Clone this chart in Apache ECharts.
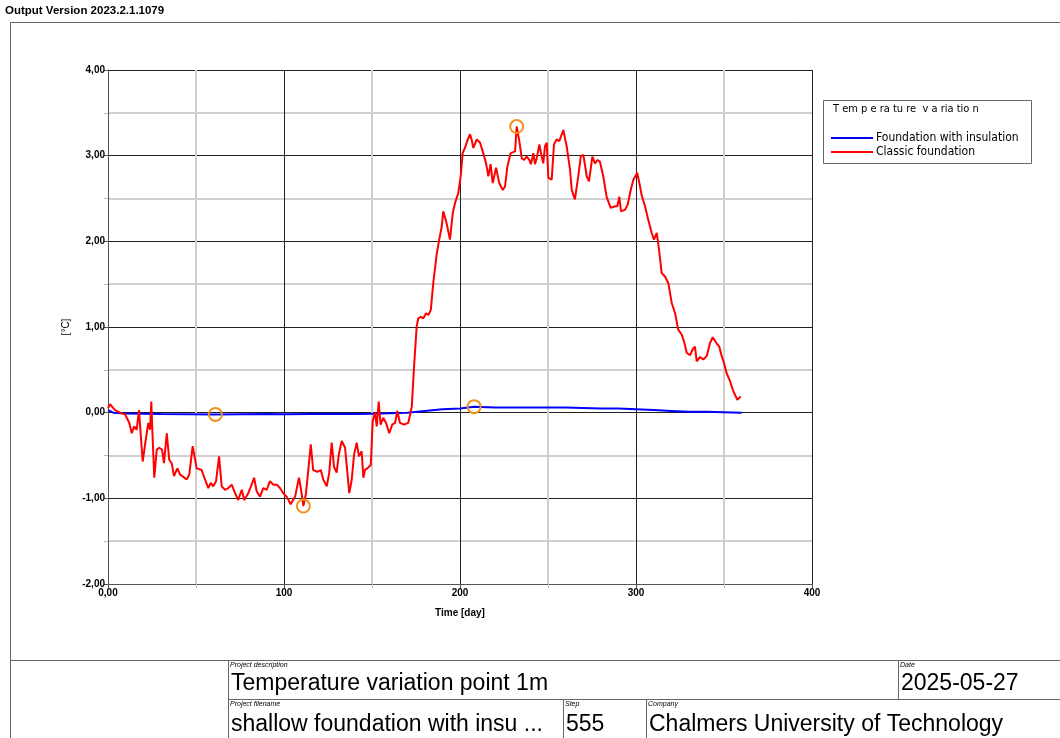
<!DOCTYPE html>
<html>
<head>
<meta charset="utf-8">
<script src="https://cdn.jsdelivr.net/npm/echarts@6/dist/echarts.min.js"></script>
<style>
html,body{margin:0;padding:0;background:#fff;}
#c{width:1060px;height:738px;}
</style>
</head>
<body>
<div id="c"></div>
<script>
// ---- data ----
const redDays = [0,1.1,4.0,6.8,9.7,12.1,13.5,14.9,16.3,17.6,19.7,22.0,22.9,23.9,24.6,25.4,26.3,27.7,29.1,30.7,31.8,33.4,34.8,36.2,37.5,39.4,40.9,42.8,44.7,46.2,48.1,50.4,53.2,55.1,57.0,58.4,59.8,61.4,63.1,64.6,66.5,68.4,70.3,72.2,74.0,76.0,77.4,79.7,81.6,83.0,84.5,86.4,88.2,90.2,92.0,93.9,95.9,97.7,99.6,101.5,103.8,106.3,108.5,109.7,111.0,112.5,113.8,115.2,116.6,118.9,120.9,122.3,124.3,125.7,127.1,128.4,129.9,131.3,132.8,134.7,136.0,137.1,138.5,139.8,141.3,142.6,144.1,145.1,146.0,147.3,149.3,150.4,151.7,152.7,153.8,154.9,156.4,158.0,159.8,161.5,163.1,164.4,165.9,168.2,170.6,172.6,173.9,175.4,176.3,177.7,179.1,180.7,182.0,183.4,184.8,186.8,188.2,189.6,190.5,192.4,194.3,195.9,197.2,199.0,200.4,201.5,202.8,204.1,205.7,206.6,207.6,209.5,211.4,213.2,214.8,216.1,217.4,218.6,220.5,222.3,224.3,225.6,226.9,228.8,231.3,232.2,233.7,235.1,236.4,237.9,239.4,240.3,241.7,242.6,243.6,245.1,246.4,247.3,248.3,249.3,250.2,252.1,253.4,254.9,256.4,258.7,260.6,262.5,263.5,265.3,267.2,268.6,270.1,272.0,273.3,275.2,276.7,278.2,279.5,281.4,283.3,285.6,288.1,289.4,290.5,291.5,293.8,295.3,297.0,298.5,300.7,302.3,303.2,305.1,307.0,308.9,310.2,311.8,313.1,314.6,316.5,318.4,320.3,322.2,324.0,326.0,327.3,328.8,330.7,332.2,333.5,334.5,336.4,338.2,340.2,342.0,343.6,345.8,347.3,348.7,350.0,351.5,353.4,355.3,357.6,359.5];
const redTemps = [0.05,0.10,0.03,0.00,-0.02,-0.12,-0.24,-0.16,-0.20,0.03,-0.57,-0.24,-0.12,-0.20,0.13,-0.32,-0.76,-0.43,-0.41,-0.43,-0.59,-0.24,-0.55,-0.59,-0.74,-0.65,-0.72,-0.75,-0.78,-0.72,-0.39,-0.65,-0.67,-0.78,-0.88,-0.82,-0.86,-0.80,-0.51,-0.86,-0.90,-0.88,-0.84,-0.94,-1.02,-0.90,-1.02,-0.94,-0.84,-0.76,-0.92,-0.98,-0.88,-0.90,-0.80,-0.84,-0.84,-0.88,-0.94,-0.98,-1.07,-0.98,-0.76,-0.90,-1.09,-0.94,-0.67,-0.37,-0.67,-0.69,-0.67,-0.78,-0.86,-0.70,-0.35,-0.63,-0.70,-0.47,-0.33,-0.41,-0.70,-0.94,-0.78,-0.49,-0.35,-0.51,-0.45,-0.76,-0.67,-0.65,-0.61,-0.10,0.00,-0.16,0.13,-0.14,-0.06,-0.12,-0.24,-0.14,-0.12,0.02,-0.12,-0.14,-0.12,0.07,0.54,1.01,1.10,1.12,1.10,1.16,1.14,1.20,1.51,1.86,2.02,2.17,2.35,2.21,2.02,2.33,2.45,2.56,2.76,3.03,3.09,3.17,3.25,3.19,3.09,3.19,3.15,3.03,2.91,2.76,2.90,2.68,2.86,2.68,2.60,2.64,2.87,3.03,3.05,3.34,3.17,2.97,2.95,2.99,2.95,2.90,3.03,2.90,2.97,3.13,2.99,2.91,3.11,3.15,2.74,2.72,3.13,3.19,3.17,3.30,3.11,2.84,2.60,2.49,2.76,2.99,3.01,2.76,2.70,2.99,2.91,2.95,2.93,2.76,2.52,2.39,2.41,2.41,2.52,2.35,2.37,2.43,2.60,2.72,2.80,2.64,2.54,2.41,2.25,2.10,2.02,2.10,1.90,1.63,1.59,1.51,1.28,1.16,0.97,0.91,0.83,0.70,0.67,0.74,0.77,0.60,0.65,0.62,0.66,0.81,0.88,0.81,0.77,0.66,0.58,0.46,0.37,0.25,0.15,0.19];
const blueDays  = [0,3,10,30,61,90,100,115,140,150,160,170,180,190,200,208,220,240,260,280,290,300,310,320,330,340,350,360];
const blueTemps = [0.03,0.00,-0.01,-0.015,-0.02,-0.015,-0.018,-0.015,-0.015,-0.012,-0.008,0.0,0.02,0.04,0.05,0.07,0.06,0.06,0.06,0.05,0.05,0.04,0.03,0.02,0.01,0.01,0.005,0.0];
const seriesNames = ['Foundation with insulation','Classic foundation'];
const legendTitle = 'T em p e ra tu re  v a ria tio n';
const headerText = 'Output Version 2023.2.1.1079';
const yAxisName = '[°C]';
const xAxisName = 'Time [day]';
const tableLabels = {desc:'Project description', date:'Date', file:'Project filename', step:'Step', company:'Company'};
const tableValues = {desc:'Temperature variation point 1m', date:'2025-05-27', file:'shallow foundation with insu ...', step:'555', company:'Chalmers University of Technology'};

const zip = (a,b)=>a.map((v,i)=>[v,b[i]]);
const NARROW = "'Liberation Sans Narrow','Arial Narrow','Liberation Sans',Arial,sans-serif";
const SANS = "'DejaVu Sans Condensed','DejaVu Sans',sans-serif";

const markStyle = {
  symbol:'circle', symbolSize:13,
  itemStyle:{color:'rgba(0,0,0,0)', borderColor:'#f0921e', borderWidth:2},
  label:{show:false},
  data:[{type:'min'},{type:'max'}]
};

const chart = echarts.init(document.getElementById('c'), null, {renderer:'canvas'});
const line = (x1,y1,x2,y2,c,w)=>({type:'line',silent:true,shape:{x1,y1,x2,y2},style:{stroke:c||'#555',lineWidth:w||1}});
const txt = (x,y,t,size,extra)=>({type:'text',silent:true,left:x,top:y,
  style:Object.assign({text:t,fontFamily:NARROW,fontSize:size,fill:'#000'},extra||{})});

chart.setOption({
  animation:false,
  backgroundColor:'#fff',
  grid:{left:108, top:70, right:248, bottom:154, containLabel:false},
  xAxis:{
    type:'value', min:0, max:400, interval:100,
    axisLine:{show:true, onZero:false, lineStyle:{color:'#555',width:1}},
    axisTick:{show:true, length:4, lineStyle:{color:'#555'}},
    minorTick:{show:true, splitNumber:2, length:4, lineStyle:{color:'#bbb'}},
    splitLine:{show:true, lineStyle:{color:'#222',width:1}},
    minorSplitLine:{show:true, lineStyle:{color:'#cfcfcf',width:2}},
    axisLabel:{color:'#000', fontFamily:NARROW, fontWeight:'bold', fontSize:10, margin:4,
      formatter:v=> v===0 ? '0,00' : String(v)},
    name:xAxisName, nameLocation:'middle', nameGap:24,
    nameTextStyle:{color:'#000', fontFamily:NARROW, fontWeight:'bold', fontSize:10}
  },
  yAxis:{
    type:'value', min:-2, max:4, interval:1,
    axisLine:{show:true, onZero:false, lineStyle:{color:'#555',width:1}},
    axisTick:{show:true, length:4, lineStyle:{color:'#555'}},
    minorTick:{show:true, splitNumber:2, length:4, lineStyle:{color:'#bbb'}},
    splitLine:{show:true, lineStyle:{color:'#222',width:1}},
    minorSplitLine:{show:true, lineStyle:{color:'#cfcfcf',width:2}},
    axisLabel:{color:'#000', fontFamily:NARROW, fontWeight:'bold', fontSize:10, margin:3,
      formatter:v=> v.toFixed(2).replace('.',',')},
    name:yAxisName, nameLocation:'middle', nameGap:31, nameRotate:90,
    nameTextStyle:{color:'#000', fontFamily:NARROW, fontSize:10}
  },
  legend:{
    orient:'vertical', left:826, top:127, itemWidth:42, itemHeight:2, itemGap:2,
    icon:'rect',
    textStyle:{color:'#000', fontFamily:SANS, fontSize:12, padding:[0,0,0,-2]},
    data:seriesNames
  },
  series:[
    {name:seriesNames[0], type:'line', data:zip(blueDays,blueTemps), showSymbol:false,
     lineStyle:{color:'#0000ff', width:2}, itemStyle:{color:'#0000ff'}, z:3, markPoint:markStyle},
    {name:seriesNames[1], type:'line', data:zip(redDays,redTemps), showSymbol:false,
     lineStyle:{color:'#ff0000', width:2}, itemStyle:{color:'#ff0000'}, z:4, markPoint:markStyle}
  ],
  graphic:[
    txt(5,5,headerText,11.5,{fontWeight:'bold'}),
    // outer frame
    line(10.5,22.5,1060,22.5,'#666'),
    line(10.5,22.5,10.5,738,'#666'),
    line(10,660.5,1060,660.5,'#666'),
    // title block
    line(228.5,660,228.5,738,'#666'),
    line(228,699.5,1060,699.5,'#666'),
    line(898.5,660,898.5,699,'#666'),
    line(563.5,699,563.5,738,'#666'),
    line(646.5,699,646.5,738,'#666'),
    txt(230,662,tableLabels.desc,7,{fontStyle:'italic'}),
    txt(231,672,tableValues.desc,23),
    txt(900,662,tableLabels.date,7,{fontStyle:'italic'}),
    txt(901,672,tableValues.date,23),
    txt(230,701,tableLabels.file,7,{fontStyle:'italic'}),
    txt(231,713,tableValues.file,23),
    txt(565,701,tableLabels.step,7,{fontStyle:'italic'}),
    txt(566,713,tableValues.step,23),
    txt(648,701,tableLabels.company,7,{fontStyle:'italic'}),
    txt(649,713,tableValues.company,23),
    // legend box
    {type:'rect', silent:true, shape:{x:823.5,y:100.5,width:208,height:63}, style:{fill:'none',stroke:'#666',lineWidth:1}, z:-1},
    txt(833,104,legendTitle,11,{fontFamily:SANS})
  ]
});
</script>
</body>
</html>
